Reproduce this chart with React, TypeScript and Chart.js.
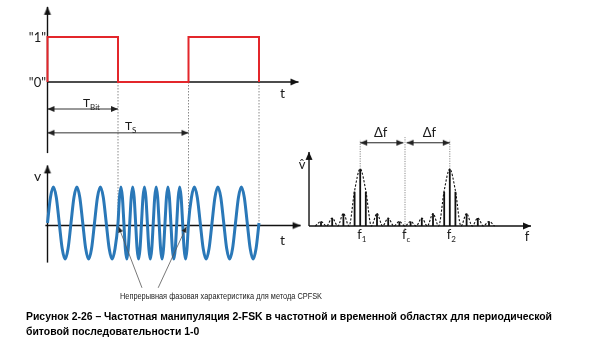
import React, { useEffect, useRef } from "react";
import { Chart, registerables } from "chart.js";
Chart.register(...registerables);

const W = 596;
const H = 353;

// ---------- time domain data ----------
const bits = [1, 0, 1];                 // periodic bit sequence 1-0-1
const cyclesPerBit = [3, 6, 3];         // carrier cycles drawn inside each bit
const carrierCycle = [0, 0.71, 1, 0.71, 0, -0.71, -1, -0.71]; // one carrier period
const boundaryTimes = [1, 2, 3];        // dotted bit-boundary lines (in T_Bit)
const boundaryDepth = [-3.2, -3.2, -3.2];
const tBitSpan = [0, 1];
const tSSpan = [0, 2];
const noteFrom = [1.34, 1.57];          // annotation leader lines (t at the text)
const noteTo = [1.01, 1.97];            // annotation leader lines (t at the crossings)

// ---------- frequency domain data ----------
const fMarks = [-4, 0, 4];              // f1, fc, f2 (in spectral-line spacings)
const fSubs = ["1", "c", "2"];
const envFreq = [-8, -7.5, -7, -6.5, -6, -5.5, -5, -4.5, -4, -3.5, -3, -2.5, -2, -1.5, -1, -0.5, 0,
  0.5, 1, 1.5, 2, 2.5, 3, 3.5, 4, 4.5, 5, 5.5, 6, 6.5, 7, 7.5, 8];
const envLevel = [0, 0.08, 0, 0.14, 0, 0.22, 0, 0.62, 1, 0.62, 0, 0.22, 0, 0.14, 0, 0.08, 0,
  0.08, 0, 0.14, 0, 0.22, 0, 0.62, 1, 0.62, 0, 0.22, 0, 0.14, 0, 0.08, 0];
const lineFreq = [-7.5, -6.5, -5.5, -4.5, -4, -3.5, -2.5, -1.5, -0.5, 0.5, 1.5, 2.5, 3.5, 4, 4.5, 5.5, 6.5, 7.5];
const lineLevel = [0.08, 0.14, 0.22, 0.6, 1, 0.6, 0.22, 0.14, 0.08, 0.08, 0.14, 0.22, 0.6, 1, 0.6, 0.22, 0.14, 0.08];

// ---------- texts ----------
const levelLabels = ['"0"', '"1"'];
const noteText = "Непрерывная фазовая характеристика для метода CPFSK";
const captionLines = [
  "Рисунок 2-26 – Частотная манипуляция 2-FSK в частотной и временной областях для периодической",
  "битовой последовательности 1-0",
];

const DIAG_FONT = "Lato, 'Open Sans', 'DejaVu Sans', sans-serif";
const TEXT_FONT = "'Liberation Sans', Arial, sans-serif";
const RED = "#e3262b";
const BLUE = "#2a78b8";
const INK = "#111111";
const GREY = "#8a8a8a";

function xRange(p0: number, v0: number, p1: number, v1: number) {
  const k = (p1 - p0) / (v1 - v0);
  const min = v0 - p0 / k;
  return { min, max: min + W / k };
}
function yRange(p0: number, v0: number, p1: number, v1: number) {
  const k = (p0 - p1) / (v1 - v0);
  const max = v0 + p0 / k;
  return { min: max - H / k, max };
}

function makeArrow(len: number, half: number, color: string) {
  const s = Math.ceil(len * 2 + 4);
  const c = document.createElement("canvas");
  c.width = s;
  c.height = s;
  const g = c.getContext("2d")!;
  const cx = s / 2;
  const cy = s / 2;
  g.fillStyle = color;
  g.beginPath();
  g.moveTo(cx, cy);
  g.lineTo(cx - len, cy - half);
  g.lineTo(cx - len, cy + half);
  g.closePath();
  g.fill();
  return c;
}

export default function App() {
  const ref = useRef<HTMLCanvasElement>(null);

  useEffect(() => {
    const canvas = ref.current!;
    const axisArrow = makeArrow(8, 3.6, INK);
    const dimArrow = makeArrow(7, 3, "#222");
    const smallArrow = makeArrow(5.5, 2.4, "#222");

    // square wave
    const square: any[] = [{ x: 0, y: 0 }];
    bits.forEach((b, i) => {
      square.push({ x: i, y: b });
      square.push({ x: i + 1, y: b });
    });
    square.push({ x: bits.length, y: 0 });

    // FSK carrier
    const wave: any[] = [];
    bits.forEach((_, i) => {
      const n = cyclesPerBit[i];
      const m = carrierCycle.length;
      for (let c = 0; c < n; c++) {
        for (let q = 0; q < m; q++) {
          wave.push({ x: i + (c + q / m) / n, y: carrierCycle[q] });
        }
      }
    });
    wave.push({ x: bits.length, y: 0 });

    const boundaries: any[] = [];
    boundaryTimes.forEach((t, i) => {
      boundaries.push({ x: t, y: 0 }, { x: t, y: boundaryDepth[i] }, { x: t, y: null });
    });

    const envelope = envFreq.map((f, i) => ({ x: f, y: envLevel[i] }));
    const specLines: any[] = [];
    lineFreq.forEach((f, i) => {
      specLines.push({ x: f, y: 0 }, { x: f, y: lineLevel[i] }, { x: f, y: null });
    });
    const fMarkerPts: any[] = [];
    fMarks.forEach((f, i) => {
      const lo = i === 1 ? -0.1 : 1;
      fMarkerPts.push({ x: f, y: lo }, { x: f, y: i === 1 ? 1.56 : 1.51 }, { x: f, y: null });
    });

    const seg = (xAxisID: string, yAxisID: string, data: any[], extra: any) => ({
      type: "line",
      xAxisID,
      yAxisID,
      data,
      fill: false,
      tension: 0,
      pointRadius: 0,
      pointHoverRadius: 0,
      borderCapStyle: "butt",
      borderJoinStyle: "miter",
      ...extra,
    });
    const arrowEnd = (img: any, rot: number, color: string, width: number) => ({
      borderColor: color,
      borderWidth: width,
      pointStyle: img,
      pointRadius: [0, 4],
      pointRotation: [0, rot],
    });
    const arrowBoth = (img: any, color: string, width: number) => ({
      borderColor: color,
      borderWidth: width,
      pointStyle: img,
      pointRadius: [4, 4],
      pointRotation: [180, 0],
    });

    const datasets: any[] = [
      // time domain: top diagram
      seg("x", "y", square, { borderColor: RED, borderWidth: 2, order: 1 }),
      seg("x", "y", [{ x: 0, y: -1.58 }, { x: 0, y: 1.67 }], { ...arrowEnd(axisArrow, -90, INK, 1.4), order: 3 }),
      seg("x", "y", [{ x: 0, y: 0 }, { x: 3.56, y: 0 }], { ...arrowEnd(axisArrow, 0, INK, 1.4), order: 3 }),
      seg("x", "y", boundaries, { borderColor: GREY, borderWidth: 1, borderDash: [1.5, 1.5], order: 6 }),
      seg("x", "y", [{ x: tBitSpan[0], y: -0.6 }, { x: tBitSpan[1], y: -0.6 }], { ...arrowBoth(dimArrow, "#333", 1), order: 3 }),
      seg("x", "y", [{ x: tSSpan[0], y: -1.13 }, { x: tSSpan[1], y: -1.13 }], { ...arrowBoth(dimArrow, "#333", 1), order: 3 }),
      // time domain: carrier
      seg("x", "yw", [{ x: 0, y: -1.1 }, { x: 0, y: 1.6 }], { ...arrowEnd(axisArrow, -90, INK, 1.4), order: 4 }),
      seg("x", "yw", [{ x: -0.03, y: -0.07 }, { x: 3.59, y: -0.07 }], { ...arrowEnd(axisArrow, 0, INK, 1.4), order: 4 }),
      seg("x", "yw", wave, { borderColor: BLUE, borderWidth: 3, cubicInterpolationMode: "monotone", order: 2 }),
      seg("x", "yw", [{ x: noteFrom[0], y: -1.8 }, { x: noteTo[0], y: -0.11 }], { ...arrowEnd(smallArrow, -111, "#555", 0.8), order: 0 }),
      seg("x", "yw", [{ x: noteFrom[1], y: -1.8 }, { x: noteTo[1], y: -0.11 }], { ...arrowEnd(smallArrow, -63, "#555", 0.8), order: 0 }),
      // frequency domain
      seg("xs", "ys", [{ x: -8.57, y: 0 }, { x: -8.57, y: 1.3 }], { ...arrowEnd(axisArrow, -90, INK, 1.4), order: 3 }),
      seg("xs", "ys", [{ x: -8.57, y: 0 }, { x: 11.25, y: 0 }], { ...arrowEnd(axisArrow, 0, INK, 1.4), order: 3 }),
      seg("xs", "ys", envelope, { borderColor: INK, borderWidth: 1.1, borderDash: [2.2, 1.6], cubicInterpolationMode: "monotone", order: 2 }),
      seg("xs", "ys", specLines, { borderColor: INK, borderWidth: 1.8, order: 2 }),
      seg("xs", "ys", fMarkerPts, { borderColor: GREY, borderWidth: 1, borderDash: [1.2, 1.2], order: 6 }),
      seg("xs", "ys", [{ x: fMarks[0], y: 1.46 }, { x: fMarks[1] - 0.15, y: 1.46 }], { ...arrowBoth(dimArrow, "#222", 1), order: 1 }),
      seg("xs", "ys", [{ x: fMarks[1] + 0.15, y: 1.46 }, { x: fMarks[2], y: 1.46 }], { ...arrowBoth(dimArrow, "#222", 1), order: 1 }),
    ];

    const textPlugin = {
      id: "diagramText",
      afterDatasetsDraw(chart: any) {
        const ctx = chart.ctx as CanvasRenderingContext2D;
        const xs = chart.scales.xs;
        const ys = chart.scales.ys;
        const yT = chart.scales.y;
        ctx.save();
        ctx.fillStyle = "#1a1a1a";
        ctx.textBaseline = "alphabetic";
        const put = (t: string, x: number, y: number, size: number, align: CanvasTextAlign = "left", weight = "normal", fam = DIAG_FONT, maxW?: number) => {
          ctx.font = `${weight} ${size}px ${fam}`;
          ctx.textAlign = align;
          if (maxW) ctx.fillText(t, x, y, maxW);
          else ctx.fillText(t, x, y);
          return ctx.measureText(t).width;
        };
        const withSub = (m: string, s: string, x: number, y: number, size: number, subSize: number, drop: number) => {
          const w = put(m, x, y, size);
          put(s, x + w, y + drop, subSize);
        };
        // top diagram
        put(levelLabels[1], 46, yT.getPixelForValue(1) + 4.5, 13, "right");
        put(levelLabels[0], 46, yT.getPixelForValue(0) + 4.5, 13, "right");
        put("t", 282.5, 97.5, 14, "center");
        withSub("T", "Bit", 83, 107, 12, 8, 2.5);
        withSub("T", "S", 125, 130, 12, 8, 2.7);
        // carrier
        put("v", 37.5, 181, 14, "center");
        put("t", 282.5, 245, 14, "center");
        // annotation (condensed to the reference width)
        ctx.fillStyle = "#222";
        put(noteText, 120, 298.5, 9.5, "left", "normal", TEXT_FONT, 202);
        ctx.fillStyle = "#1a1a1a";
        // spectrum
        put("v\u0302", 302, 169, 13, "center");
        put("\u0394f", (xs.getPixelForValue(fMarks[0]) + xs.getPixelForValue(fMarks[1])) / 2 - 2, 136.5, 13, "center");
        put("\u0394f", (xs.getPixelForValue(fMarks[1]) + xs.getPixelForValue(fMarks[2])) / 2 + 2, 136.5, 13, "center");
        fMarks.forEach((f, i) => {
          withSub("f", fSubs[i], xs.getPixelForValue(f) - 3, ys.getPixelForValue(0) + 12.5, 13, 8, 3);
        });
        put("f", 527, 240.5, 13, "center");
        // caption
        ctx.fillStyle = "#000";
        put(captionLines[0], 26, 320, 10.5, "left", "bold", TEXT_FONT, 526);
        ctx.font = `bold 10.5px ${TEXT_FONT}`;
        const full = ctx.measureText(captionLines[0]).width;
        const ratio = Math.min(1, 526 / full);
        const w2 = ctx.measureText(captionLines[1]).width * ratio;
        put(captionLines[1], 26, 334.5, 10.5, "left", "bold", TEXT_FONT, w2);
        ctx.restore();
      },
    };

    const chart = new Chart(canvas, {
      type: "line",
      data: { datasets },
      options: {
        responsive: false,
        animation: false,
        devicePixelRatio: 1,
        events: [],
        layout: { padding: 0, autoPadding: false },
        plugins: { legend: { display: false }, tooltip: { enabled: false }, title: { display: false } },
        scales: {
          x: { type: "linear", position: "bottom", display: false, bounds: "data", ...xRange(47.5, 0, 118, 1) },
          y: { type: "linear", position: "left", display: false, bounds: "data", ...yRange(82, 0, 37, 1) },
          yw: { type: "linear", position: "left", display: false, bounds: "data", ...yRange(223, 0, 187, 1) },
          xs: { type: "linear", position: "bottom", display: false, bounds: "data", ...xRange(405, 0, 416.2, 1) },
          ys: { type: "linear", position: "left", display: false, bounds: "data", ...yRange(226, 0, 169, 1) },
        },
      } as any,
      plugins: [textPlugin],
    } as any);
    return () => chart.destroy();
  }, []);

  return (
    <div style={{ position: "fixed", left: 0, top: 0, width: W, height: H, background: "#fff" }}>
      <canvas ref={ref} width={W} height={H} style={{ display: "block", width: W, height: H }} />
    </div>
  );
}
